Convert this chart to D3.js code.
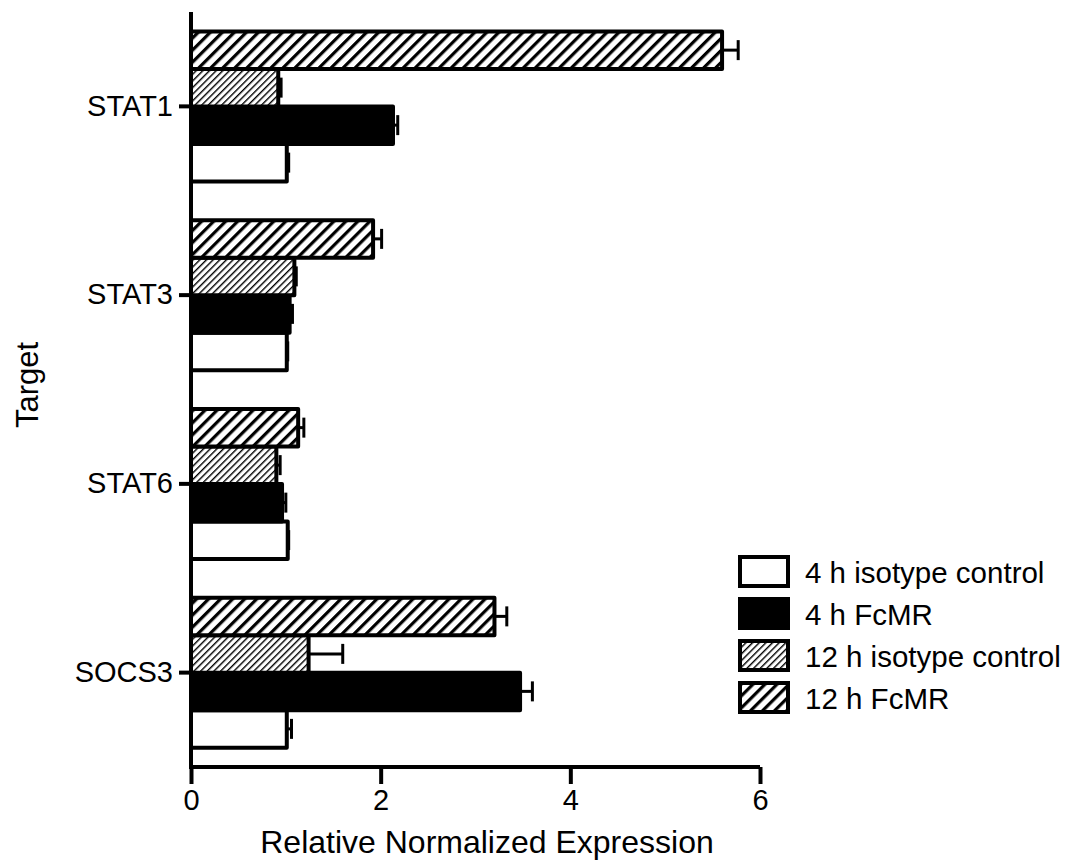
<!DOCTYPE html>
<html>
<head>
<meta charset="utf-8">
<script src="https://cdn.jsdelivr.net/npm/d3@7"></script>
<style>
  body { margin: 0; background: #fff; }
  text { font-family: "Liberation Sans", Arial, sans-serif; fill: #000; }
</style>
</head>
<body>
<div id="chart"></div>
<script>
var categories = ["STAT1", "STAT3", "STAT6", "SOCS3"];
var seriesNames = ["4 h isotype control", "4 h FcMR", "12 h isotype control", "12 h FcMR"];
var iso4 = [1.01, 1.01, 1.02, 1.01],   iso4Err = [0.02, 0.01, 0.01, 0.05];
var fcmr4 = [2.13, 1.04, 0.96, 3.47],  fcmr4Err = [0.05, 0.03, 0.04, 0.13];
var iso12 = [0.92, 1.09, 0.90, 1.24],  iso12Err = [0.03, 0.02, 0.04, 0.36];
var fcmr12 = [5.60, 1.92, 1.13, 3.20], fcmr12Err = [0.17, 0.09, 0.06, 0.13];
var xTicks = [0, 2, 4, 6];

var values = [iso4, fcmr4, iso12, fcmr12],
    errors = [iso4Err, fcmr4Err, iso12Err, fcmr12Err],
    fills = ["#fff", "#000", "url(#hatchFine)", "url(#hatchWide)"];

var width = 1077, height = 863, fontSize = 29;
var svg = d3.select("#chart").append("svg")
    .attr("width", width)
    .attr("height", height);

var defs = svg.append("defs");
function hatch(id, size, thick) {
  var p = defs.append("pattern")
      .attr("id", id)
      .attr("patternUnits", "userSpaceOnUse")
      .attr("width", size).attr("height", size)
      .attr("patternTransform", "rotate(45)");
  p.append("rect").attr("width", size).attr("height", size).attr("fill", "#fff");
  p.append("line").attr("x1", 0).attr("y1", 0).attr("x2", 0).attr("y2", size)
      .attr("stroke", "#000").attr("stroke-width", thick * 2);
}
hatch("hatchWide", 8.5, 3.2);
hatch("hatchFine", 4.7, 1.4);

var x = d3.scaleLinear().domain([0, 6]).range([191, 760]);
var y = d3.scaleBand().domain(categories).range([12, 767]);
// series drawn top to bottom: 12 h FcMR, 12 h iso, 4 h FcMR, 4 h iso
var inner = d3.scaleBand().domain([3, 2, 1, 0]).range([-75, 75]);

var rows = [];
categories.forEach(function(c, ci) {
  values.forEach(function(v, si) {
    rows.push({cat: c, s: si, v: v[ci], e: errors[si][ci]});
  });
});

function yTop(d) { return y(d.cat) + y.bandwidth() / 2 + inner(d.s); }

// error bars (positive only)
var eb = svg.append("g").attr("stroke", "#000").attr("stroke-width", 3);
eb.selectAll("line.h").data(rows).enter().append("line")
    .attr("x1", function(d) { return x(d.v); })
    .attr("x2", function(d) { return x(d.v + d.e); })
    .attr("y1", function(d) { return yTop(d) + inner.bandwidth() / 2; })
    .attr("y2", function(d) { return yTop(d) + inner.bandwidth() / 2; });
eb.selectAll("line.c").data(rows).enter().append("line")
    .attr("x1", function(d) { return x(d.v + d.e); })
    .attr("x2", function(d) { return x(d.v + d.e); })
    .attr("y1", function(d) { return yTop(d) + inner.bandwidth() / 2 - 10; })
    .attr("y2", function(d) { return yTop(d) + inner.bandwidth() / 2 + 10; });

svg.append("g").selectAll("rect").data(rows).enter().append("rect")
    .attr("x", x(0))
    .attr("y", yTop)
    .attr("width", function(d) { return x(d.v) - x(0); })
    .attr("height", inner.bandwidth())
    .attr("fill", function(d) { return fills[d.s]; })
    .attr("stroke", "#000")
    .attr("stroke-width", 4)
    .attr("stroke-linejoin", "round");

// axes
var xAxis = svg.append("g")
    .attr("transform", "translate(0,767)")
    .call(d3.axisBottom(x).tickValues(xTicks).tickSize(17).tickPadding(5).tickFormat(d3.format("d")));
var yAxis = svg.append("g")
    .attr("transform", "translate(191,0)")
    .call(d3.axisLeft(y).tickSize(12).tickPadding(6));
[xAxis, yAxis].forEach(function(a) {
  a.select(".domain").attr("stroke", "#000").attr("stroke-width", 4);
  a.selectAll(".tick line").attr("stroke", "#000").attr("stroke-width", 4);
  a.selectAll(".tick text").attr("font-size", fontSize).attr("font-family", "Liberation Sans, Arial, sans-serif");
});
xAxis.select(".domain").attr("d", "M191,0H760");
yAxis.select(".domain").attr("d", "M0,12V769");

svg.append("text")
    .attr("x", 487).attr("y", 853)
    .attr("text-anchor", "middle")
    .attr("font-size", 32)
    .text("Relative Normalized Expression");
svg.append("text")
    .attr("transform", "translate(38,385) rotate(-90)")
    .attr("text-anchor", "middle")
    .attr("font-size", 31)
    .text("Target");

// legend
var legend = svg.append("g").attr("transform", "translate(740,557)");
var li = legend.selectAll("g").data(seriesNames).enter().append("g")
    .attr("transform", function(d, i) { return "translate(0," + (i * 42) + ")"; });
li.append("rect")
    .attr("width", 48).attr("height", 29)
    .attr("fill", function(d, i) { return fills[i]; })
    .attr("stroke", "#000").attr("stroke-width", 4);
li.append("text")
    .attr("x", 65).attr("y", 26)
    .attr("font-size", 29.5)
    .text(function(d) { return d; });
</script>
</body>
</html>
